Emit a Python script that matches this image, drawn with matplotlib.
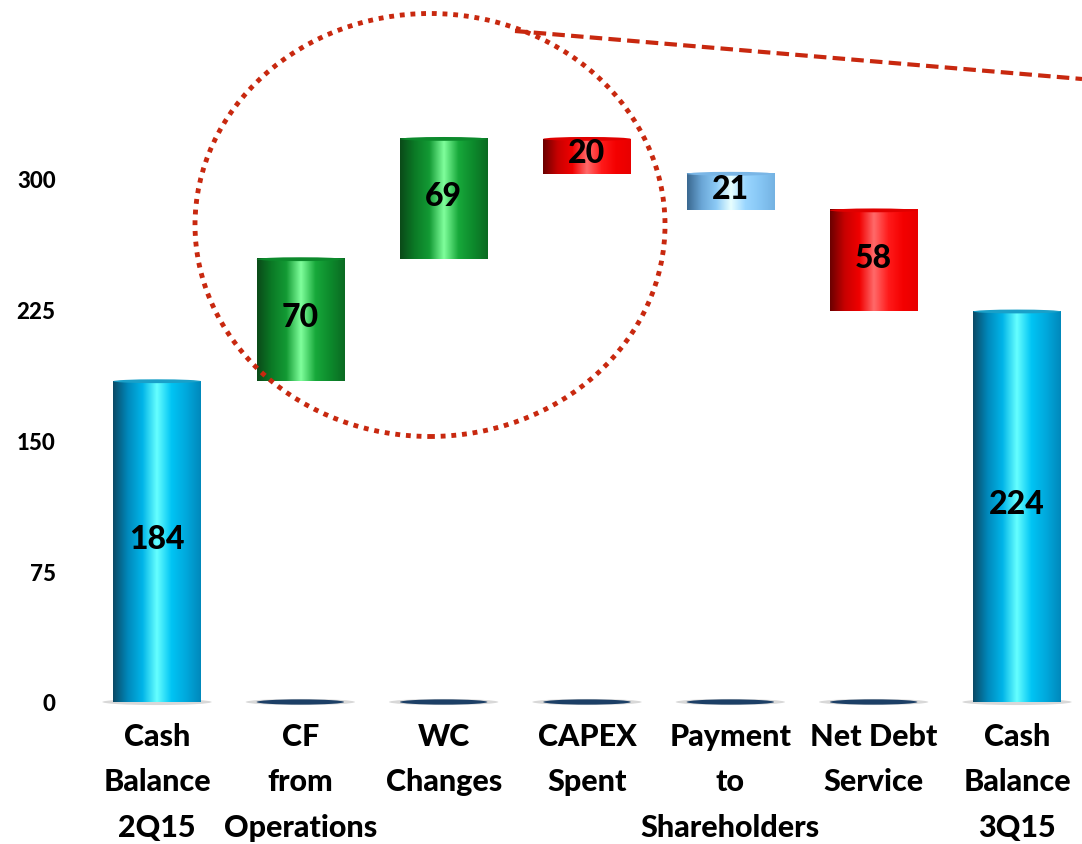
import numpy as np
import matplotlib.pyplot as plt
from matplotlib.colors import LinearSegmentedColormap
from matplotlib.patches import Ellipse
from matplotlib.lines import Line2D

# Data
categories = ["Cash\nBalance\n2Q15", "CF\nfrom\nOperations", "WC\nChanges", "CAPEX\nSpent",
              "Payment\nto\nShareholders", "Net Debt\nService", "Cash\nBalance\n3Q15"]
values = [184, 70, 69, -20, -21, -58, 224]
is_total = [True, False, False, False, False, False, True]
styles = ["blue", "green", "green", "red", "lightblue", "red", "blue"]
yticks = [0, 75, 150, 225, 300]

# Cylinder shading palettes (left edge -> highlight -> right edge)
palettes = {
    "blue": ["#0b4a66", "#0088bb", "#00b4e8", "#66ffff", "#00c4f4", "#00a8dc", "#0088bb"],
    "green": ["#0a4a18", "#0b7a26", "#139a34", "#80ff9c", "#17a83a", "#0d8a2c", "#0b6a22"],
    "red": ["#6a0000", "#c80000", "#f00000", "#ff6a6a", "#ff1a1a", "#f40000", "#e80000"],
    "lightblue": ["#3a6890", "#6aa6d6", "#8ccaf6", "#e8ffff", "#9ad6ff", "#86c6f4", "#74b2e2"],
}
caps = {"blue": "#1aa0c8", "green": "#0c8a2c", "red": "#e00000", "lightblue": "#7ab6e6"}

# Waterfall bottoms/tops
bottoms, tops = [], []
running = 0
for v, tot in zip(values, is_total):
    if tot:
        bottoms.append(0)
        tops.append(v)
        running = v
    else:
        lo, hi = sorted([running, running + v])
        bottoms.append(lo)
        tops.append(hi)
        running += v

plt.rcParams["font.family"] = ["Lato", "DejaVu Sans"]
fig = plt.figure(figsize=(10.82, 8.45), dpi=100)

# axes placed so that y=0 sits at ~703 px and 300 at ~180 px
px_per_unit = 523 / 300
y_lo, y_hi = -10, 400
ax_bottom_px = 703 + (0 - y_lo) * px_per_unit
ax_top_px = 703 - y_hi * px_per_unit
left_px, right_px = 75, 1082
ax = fig.add_axes([left_px / 1082, 1 - ax_bottom_px / 845,
                   (right_px - left_px) / 1082, (ax_bottom_px - ax_top_px) / 845])

spacing = 143.33
x_lo = (left_px - 157) / spacing
x_hi = (right_px - 157) / spacing
ax.set_xlim(x_lo, x_hi)
ax.set_ylim(y_lo, y_hi)

width = 0.61
x = np.arange(len(categories))
grad = np.linspace(0, 1, 256).reshape(1, -1)
cap_h = 2.2

for i in x:
    style = styles[i]
    cmap = LinearSegmentedColormap.from_list(style, palettes[style])
    # base shadow
    ax.add_patch(Ellipse((i, 0), width * 1.25, 3.5, color="#c8c8c8", alpha=0.7, zorder=1, lw=0))
    if not is_total[i]:
        ax.add_patch(Ellipse((i, 0), width, 3.0, color="#1c3f66", zorder=2, lw=0))
    b, t = bottoms[i], tops[i]
    ax.imshow(grad, cmap=cmap, extent=[i - width / 2, i + width / 2, b, t],
              aspect="auto", zorder=3, interpolation="bilinear")
    ax.add_patch(Ellipse((i, t), width, cap_h, color=caps[style], zorder=4, lw=0))
    label = abs(values[i])
    ax.text(i, (b + t) / 2 + 2, f"{label}", ha="center", va="center",
            fontsize=23, fontweight="black", color="black", zorder=5)

ax.set_xticks(x)
ax.set_xticklabels(categories, fontsize=22, fontweight="black", linespacing=1.75)
ax.set_yticks(yticks)
ax.set_yticklabels([str(t) for t in yticks], fontsize=16, fontweight="black")
ax.tick_params(axis="both", length=0)
ax.tick_params(axis="x", pad=2)
ax.tick_params(axis="y", pad=14)
for s in ax.spines.values():
    s.set_visible(False)
ax.set_facecolor("none")

# Highlight annotations (dotted ellipse and dashed callout line)
ell = Ellipse((430 / 1082, 1 - 226 / 845), 470 / 1082, 423 / 845, transform=fig.transFigure,
              fill=False, edgecolor="#c8280f", lw=3.5, linestyle=(0, (1, 1.2)), zorder=10)
fig.patches.append(ell)
fig.lines.append(Line2D([515 / 1082, 1082 / 1082], [1 - 32 / 845, 1 - 80 / 845],
                        transform=fig.transFigure, color="#c8280f", lw=3,
                        linestyle=(0, (3, 1.5))))

fig.savefig("out.png", dpi=100)
